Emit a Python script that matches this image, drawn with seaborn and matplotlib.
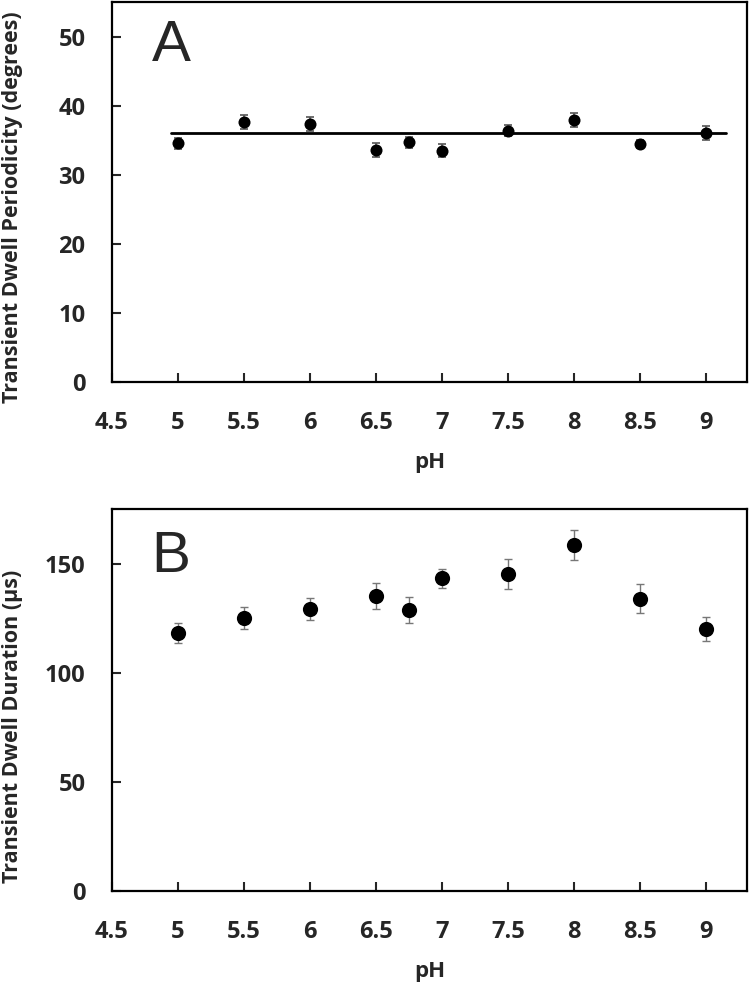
import numpy as np
import pandas as pd
import matplotlib
matplotlib.use("Agg")
import matplotlib.pyplot as plt
import seaborn as sns

# data
ph = [5, 5.5, 6, 6.5, 6.75, 7, 7.5, 8, 8.5, 9]
period = [34.6, 37.6, 37.3, 33.6, 34.7, 33.5, 36.4, 37.9, 34.5, 36.0]
period_err = [0.8, 1.0, 1.0, 1.0, 0.8, 0.9, 0.8, 1.0, 0.6, 1.0]
duration = [118.3, 125.0, 129.4, 135.4, 128.8, 143.3, 145.3, 158.6, 134.0, 120.0]
duration_err = [4.5, 5.0, 5.0, 6.0, 6.0, 4.4, 7.0, 6.7, 6.5, 5.5]
fit_x = [4.95, 9.15]
fit_y = [36.0, 36.0]

sns.set_style("ticks")
plt.rcParams['font.family'] = ['Open Sans', 'DejaVu Sans']
plt.rcParams['font.weight'] = 'bold'

fig = plt.figure(figsize=(7.51, 9.84), dpi=100)
axA = fig.add_axes([0.149, 0.6118, 0.8455, 0.386])
axB = fig.add_axes([0.149, 0.0945, 0.8455, 0.388])

dfA = pd.DataFrame({"pH": ph, "val": period, "err": period_err})
dfB = pd.DataFrame({"pH": ph, "val": duration, "err": duration_err})

# panel A
axA.errorbar(dfA["pH"], dfA["val"], yerr=dfA["err"], fmt="none",
             ecolor="#555555", elinewidth=1.2, capsize=3, capthick=1.2, zorder=2)
sns.scatterplot(data=dfA, x="pH", y="val", ax=axA, color="black", s=75,
                edgecolor="black", linewidth=0, zorder=3)
sns.lineplot(x=fit_x, y=fit_y, ax=axA, color="black", linewidth=2, zorder=1)
axA.set_ylim(0, 55)
axA.set_yticks([0, 10, 20, 30, 40, 50])
axA.set_ylabel("Transient Dwell Periodicity (degrees)", fontsize=15.5, fontweight="bold")
axA.text(4.80, 46.5, "A", fontsize=42, family="Liberation Sans", fontweight="normal")

# panel B
axB.errorbar(dfB["pH"], dfB["val"], yerr=dfB["err"], fmt="none",
             ecolor="#777777", elinewidth=1.0, capsize=3, capthick=1.0, zorder=2)
sns.scatterplot(data=dfB, x="pH", y="val", ax=axB, color="black", s=120,
                edgecolor="black", linewidth=0, zorder=3)
axB.set_ylim(0, 175)
axB.set_yticks([0, 50, 100, 150])
axB.set_ylabel("Transient Dwell Duration (\u03bcs)", fontsize=15.5, fontweight="bold")
axB.text(4.80, 146, "B", fontsize=42, family="Liberation Sans", fontweight="normal")

xt = [4.5, 5, 5.5, 6, 6.5, 7, 7.5, 8, 8.5, 9]
for ax, ly in ((axA, 0.46), (axB, 0.43)):
    ax.set_xlim(4.5, 9.31)
    ax.set_xticks(xt)
    ax.set_xticklabels([f"{v:g}" for v in xt])
    ax.set_xlabel("pH", fontsize=16, fontweight="bold", labelpad=12)
    ax.tick_params(direction="in", length=6.5, width=1.5, pad=21, labelsize=17)
    ax.tick_params(axis="y", pad=19)
    ax.tick_params(axis="x", which="both", top=False)
    ax.tick_params(axis="y", which="both", right=False)
    for sp in ax.spines.values():
        sp.set_linewidth(1.6)
        sp.set_color("black")
    ax.yaxis.set_label_coords(-0.14, ly)
    for lab in ax.get_xticklabels() + ax.get_yticklabels():
        lab.set_fontweight("bold")
    if ax.get_legend():
        ax.get_legend().remove()

fig.savefig("out.png", dpi=100)
